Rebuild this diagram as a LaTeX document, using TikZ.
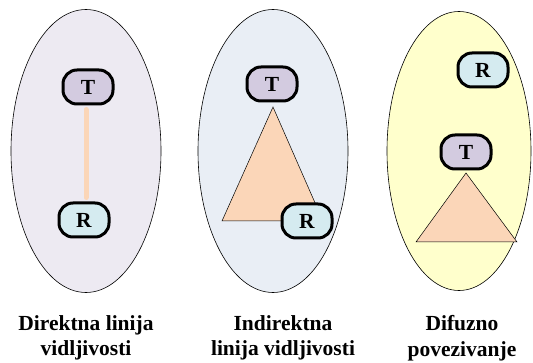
\documentclass[tikz,border=0pt]{standalone}
\usepackage{fontspec}
\setmainfont{Liberation Serif}
\usetikzlibrary{shapes.geometric}
\definecolor{ellA}{HTML}{EDEAF2}
\definecolor{ellB}{HTML}{E9EEF5}
\definecolor{ellC}{HTML}{FFFFCC}
\definecolor{tfill}{HTML}{D3CBE0}
\definecolor{rfill}{HTML}{D5EBF0}
\definecolor{peach}{HTML}{FBD6B8}
\begin{document}
\begin{tikzpicture}[x=1pt,y=-1pt,
  zone/.style={ellipse,draw=black,line width=0.6pt,minimum width=150pt,minimum height=283pt,inner sep=0pt},
  station/.style={rounded corners=14pt,draw=black,line width=3pt,minimum width=50pt,minimum height=34pt,inner sep=0pt,font=\bfseries\fontsize{21.5}{21.5}\selectfont},
  tx/.style={station,fill=tfill},
  rx/.style={station,fill=rfill},
  cone/.style={fill=peach,draw=black,line width=0.5pt},
  caption/.style={align=center,font=\bfseries\fontsize{21.5}{25.5}\selectfont}]
\useasboundingbox (0,0) rectangle (533,363);
% zones
\node[zone,fill=ellA] (e1) at (86,151) {};
\node[zone,fill=ellB] (e2) at (273,151) {};
\node[zone,fill=ellC,minimum width=144pt,minimum height=279pt] (e3) at (459,151) {};
% zone 1
\node[tx] (t1) at (88,87) {T};
\node[rx] (r1) at (84,220) {R};
\draw[peach,line width=5pt,line cap=round] ([yshift=-4pt]t1.south -| 86,0) coordinate (la) -- ([yshift=4pt]r1.north -| 86,0) coordinate (lb);
% zone 2
\node[tx] (t2) at (272,84) {T};
\coordinate (a2) at (273,107);
\coordinate (b2) at (222,221);
\coordinate (c2) at (323,221);
\draw[cone] (a2) -- (b2) -- (c2) -- cycle;
\node[rx] (r2) at (307,221) {R};
% zone 3
\node[rx] (r3) at (483,70) {R};
\node[tx] (t3) at (466,152) {T};
\coordinate (a3) at (466,173);
\coordinate (b3) at (416,242);
\coordinate (c3) at (517,242);
\draw[cone] (a3) -- (b3) -- (c3) -- cycle;
% captions
\node[caption] (c1) at (86,338) {Direktna linija\\vidljivosti};
\node[caption] (c2t) at (283,338) {Indirektna\\linija vidljivosti};
\node[caption] (c3t) at (462,338) {Difuzno\\povezivanje};
\end{tikzpicture}
\end{document}
